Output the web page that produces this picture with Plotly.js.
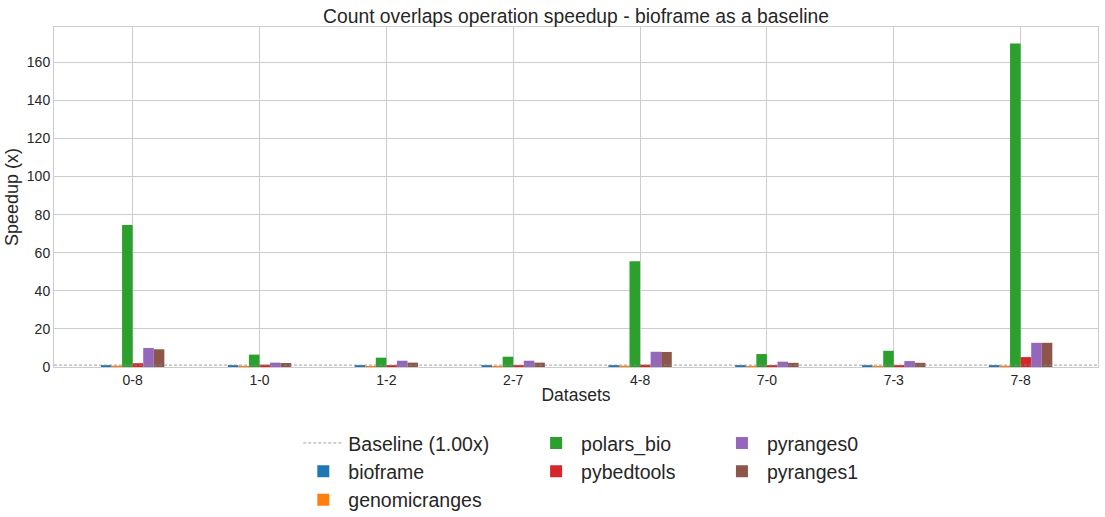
<!DOCTYPE html>
<html>
<head>
<meta charset="utf-8">
<script src="https://cdn.plot.ly/plotly-3.0.1.min.js"></script>
<style>html,body{margin:0;padding:0;background:#fff;}#chart{width:1105px;height:517px;}</style>
</head>
<body>
<div id="chart"></div>
<script>
const datasets = ["0-8", "1-0", "1-2", "2-7", "4-8", "7-0", "7-3", "7-8"];
const bioframe      = [1, 1, 1, 1, 1, 1, 1, 1];
const genomicranges = [0.7, 0.6, 0.6, 0.6, 0.7, 0.6, 0.6, 0.7];
const polars_bio    = [74.5, 6.5, 4.9, 5.4, 55.5, 6.8, 8.5, 169.8];
const pybedtools    = [2.0, 1.2, 1.0, 1.0, 1.2, 1.0, 1.0, 5.2];
const pyranges0     = [10.0, 2.3, 3.3, 3.3, 8.0, 2.8, 3.1, 12.7];
const pyranges1     = [9.3, 2.1, 2.3, 2.3, 7.9, 2.2, 2.2, 12.7];
const baselineValue = 1.0;

const seriesNames = ["bioframe", "genomicranges", "polars_bio", "pybedtools", "pyranges0", "pyranges1"];
const seriesValues = [bioframe, genomicranges, polars_bio, pybedtools, pyranges0, pyranges1];
const colors = ["#1f77b4", "#ff7f0e", "#2ca02c", "#d62728", "#9467bd", "#8c564b"];
const legendOf = ["legend", "legend", "legend2", "legend2", "legend3", "legend3"];

const traces = [];
traces.push({
  type: "scatter", mode: "lines", name: "Baseline (1.00x)",
  x: [0, 1], y: [baselineValue, baselineValue], xaxis: "x2", yaxis: "y",
  line: {color: "#8a8a8a", width: 0.8, dash: "3px,2px"},
  legend: "legend", legendrank: 1, hoverinfo: "skip"
});
seriesNames.forEach((n, i) => {
  traces.push({
    type: "bar", name: n, x: datasets, y: seriesValues[i],
    marker: {color: colors[i], line: {width: 0}},
    legend: legendOf[i], legendrank: 2 + i
  });
});

const legendBase = {
  orientation: "v", yanchor: "top", xanchor: "left",
  font: {family: "Liberation Sans, Arial, sans-serif", size: 19.5, color: "#262626"},
  bgcolor: "rgba(0,0,0,0)", tracegroupgap: 0, itemwidth: 40
};

const layout = {
  width: 1105, height: 517,
  margin: {l: 54, r: 7, t: 27, b: 150, autoexpand: false},
  paper_bgcolor: "#ffffff", plot_bgcolor: "#ffffff",
  font: {family: "Liberation Sans, Arial, sans-serif", color: "#262626"},
  title: {text: "Count overlaps operation speedup - bioframe as a baseline",
          font: {size: 19.3, color: "#262626"}, x: 0.5, xref: "paper", y: 0.968, yanchor: "middle"},
  barmode: "group", bargap: 0.5, bargroupgap: 0,
  xaxis: {
    type: "category", range: [-0.62, 7.61],
    showgrid: true, gridcolor: "#cccccc", gridwidth: 1,
    showline: true, linecolor: "#cccccc", mirror: true, linewidth: 1,
    ticks: "", tickfont: {size: 14, color: "#262626"},
    title: {text: "Datasets", font: {size: 17.5, color: "#262626"}, standoff: 1},
    zeroline: false, automargin: false
  },
  xaxis2: {overlaying: "x", range: [0, 1], visible: false, showgrid: false},
  yaxis: {
    range: [0, 178.5],
    tickvals: [0, 20, 40, 60, 80, 100, 120, 140, 160],
    showgrid: true, gridcolor: "#cccccc", gridwidth: 1,
    showline: true, linecolor: "#cccccc", mirror: true, linewidth: 1,
    ticks: "", tickfont: {size: 14, color: "#262626"},
    title: {text: "Speedup (x)", font: {size: 18, color: "#262626"}, standoff: 3},
    zeroline: false, automargin: false
  },
  legend: Object.assign({}, legendBase, {x: 0.234, y: -0.167}),
  legend2: Object.assign({}, legendBase, {x: 0.457, y: -0.167}),
  legend3: Object.assign({}, legendBase, {x: 0.635, y: -0.167}),
  showlegend: true
};

Plotly.newPlot("chart", traces, layout, {displayModeBar: false, staticPlot: true});
</script>
</body>
</html>
